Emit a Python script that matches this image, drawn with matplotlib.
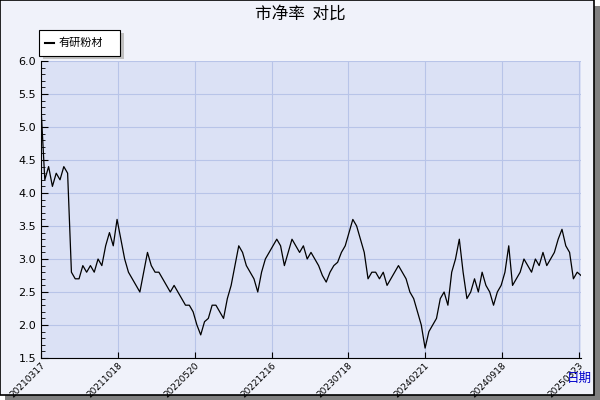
import matplotlib
matplotlib.use("Agg")
import matplotlib.pyplot as plt
from matplotlib.patches import Rectangle
import numpy as np

plt.rcParams['font.family'] = ['Noto Sans CJK SC', 'DejaVu Sans']

series_name = "有研粉材"
pb_values = [5.3, 4.2, 4.4, 4.1, 4.3, 4.2, 4.4, 4.3, 2.8, 2.7, 2.7, 2.9, 2.8, 2.9, 2.8, 3.0, 2.9,
             3.2, 3.4, 3.2, 3.6, 3.3, 3.0, 2.8, 2.7, 2.6, 2.5, 2.8, 3.1, 2.9, 2.8, 2.8, 2.7, 2.6,
             2.5, 2.6, 2.5, 2.4, 2.3, 2.3, 2.2, 2.0, 1.85, 2.05, 2.1, 2.3, 2.3, 2.2, 2.1, 2.4, 2.6,
             2.9, 3.2, 3.1, 2.9, 2.8, 2.7, 2.5, 2.8, 3.0, 3.1, 3.2, 3.3, 3.2, 2.9, 3.1, 3.3, 3.2,
             3.1, 3.2, 3.0, 3.1, 3.0, 2.9, 2.75, 2.65, 2.8, 2.9, 2.95, 3.1, 3.2, 3.4, 3.6, 3.5, 3.3,
             3.1, 2.7, 2.8, 2.8, 2.7, 2.8, 2.6, 2.7, 2.8, 2.9, 2.8, 2.7, 2.5, 2.4, 2.2, 2.0, 1.65,
             1.9, 2.0, 2.1, 2.4, 2.5, 2.3, 2.8, 3.0, 3.3, 2.8, 2.4, 2.5, 2.7, 2.5, 2.8, 2.6, 2.5,
             2.3, 2.5, 2.6, 2.8, 3.2, 2.6, 2.7, 2.8, 3.0, 2.9, 2.8, 3.0, 2.9, 3.1, 2.9, 3.0, 3.1,
             3.3, 3.45, 3.2, 3.1, 2.7, 2.8, 2.75]
tick_labels = ["20210317", "20211018", "20220520", "20221216", "20230718", "20240221", "20240918", "20250323"]
tick_fracs = [0.0, 0.143, 0.285, 0.427, 0.568, 0.711, 0.854, 0.996]

n = len(pb_values)
x = np.arange(n)

fig = plt.figure(figsize=(6, 4), dpi=100)
fig.patch.set_facecolor('white')
fig.patches.append(Rectangle((0.008, 0.0), 0.992, 0.985, transform=fig.transFigure, facecolor='#808080', edgecolor='none', zorder=-2))
fig.patches.append(Rectangle((0.0, 0.012), 0.99, 0.988, transform=fig.transFigure, facecolor='#f0f2fa', edgecolor='black', lw=1.2, zorder=-1))

ax = fig.add_axes([41/600, 42/400, 540/600, 297/400])
ax.set_facecolor('#dbe1f5')
ax.plot(x, pb_values, color='black', lw=0.9)
ax.set_xlim(0, n - 1)
ax.set_ylim(1.5, 6.0)
ax.set_yticks(np.arange(1.5, 6.01, 0.5))
ax.set_yticklabels([f"{v:.1f}" for v in np.arange(1.5, 6.01, 0.5)], fontsize=8, family='DejaVu Sans')
ax.set_yticks(np.arange(1.5, 6.0, 0.1), minor=True)
ax.set_xticks([f * (n - 1) for f in tick_fracs])
ax.set_xticklabels(tick_labels, rotation=45, ha='right', rotation_mode='anchor', fontsize=6.5, family='DejaVu Sans')
ax.grid(True, color='#b8c4e8', lw=0.8)
ax.tick_params(axis='y', which='major', length=5, direction='in')
ax.tick_params(axis='y', which='minor', length=3, direction='in')
ax.tick_params(axis='x', length=4, direction='in', pad=2)
for s in ['top', 'right']:
    ax.spines[s].set_visible(False)

fig.text(0.5, 0.965, "市净率  对比", ha='center', va='center', fontsize=12)
fig.text(0.965, 0.055, "日期", ha='center', va='center', fontsize=9, color='#0000cc')

fig.patches.append(Rectangle((0.072, 0.852), 0.135, 0.065, transform=fig.transFigure, facecolor='#c0c0c0', edgecolor='none', zorder=1))
fig.patches.append(Rectangle((0.065, 0.86), 0.135, 0.065, transform=fig.transFigure, facecolor='white', edgecolor='black', lw=0.8, zorder=2))
fig.lines.append(plt.Line2D([0.075, 0.09], [0.892, 0.892], transform=fig.transFigure, color='black', lw=1.5, zorder=3))
fig.text(0.097, 0.892, series_name, va='center', fontsize=8, zorder=3)

fig.savefig("out.png", dpi=100)
